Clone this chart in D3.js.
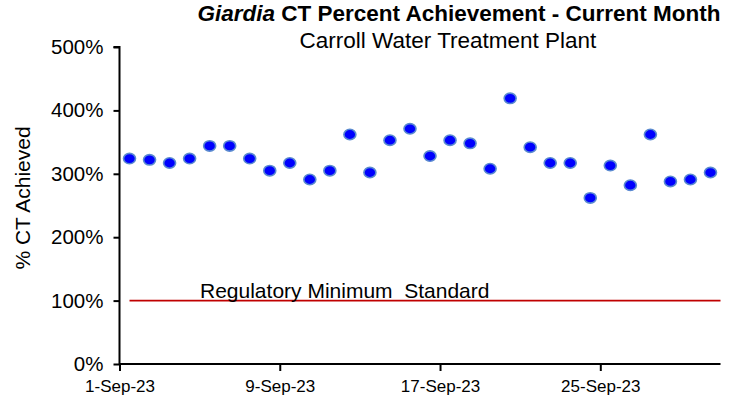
<!DOCTYPE html>
<html><head><meta charset="utf-8">
<script src="https://cdn.jsdelivr.net/npm/d3@7"></script>
<style>body{margin:0;background:#fff}svg{display:block;font-family:"Liberation Sans",Arial,sans-serif}</style>
</head><body><svg id="c" width="739" height="404"></svg>
<script>
const days = d3.range(1, 31).map(d => `2023-09-${String(d).padStart(2, "0")}`);
const ctPercent = [324, 322, 317, 324, 344, 344, 324, 305, 317, 291, 305, 362, 302, 353, 371,
  328, 353, 348, 308, 419, 342, 317, 317, 262, 313, 282, 362, 288, 291, 302];
const yTicks = [0, 100, 200, 300, 400, 500];
const xTickDates = ["2023-09-01", "2023-09-09", "2023-09-17", "2023-09-25"];
const regulatoryMin = 100;
const titleItalic = "Giardia";
const titleRest = " CT Percent Achievement - Current Month";
const subtitle = "Carroll Water Treatment Plant";
const yLabel = "% CT Achieved";
const refLabel = "Regulatory Minimum  Standard";

const parse = d3.utcParse("%Y-%m-%d");
const fmt = d3.utcFormat("%-d-%b-%y");
const svg = d3.select("#c");
const x = d3.scaleUtc().domain([parse("2023-09-01"), parse("2023-10-01")]).range([119.5, 720.5]);
const y = d3.scaleLinear().domain([0, 500]).range([364, 47]);
const mid = d => d3.utcHour.offset(parse(d), 12);

// title
const t = svg.append("text").attr("x", 459).attr("y", 21).attr("text-anchor", "middle")
  .attr("font-size", 22.5).attr("font-weight", "bold").attr("fill", "#000");
t.append("tspan").attr("font-style", "italic").text(titleItalic);
t.append("tspan").text(titleRest);
svg.append("text").attr("x", 448).attr("y", 48).attr("text-anchor", "middle")
  .attr("font-size", 22.5).text(subtitle);

// y axis
const ya = svg.append("g").attr("transform", "translate(119.5,0)")
  .call(d3.axisLeft(y).tickValues(yTicks).tickFormat(d => d + "%").tickSize(6).tickPadding(10));
ya.select(".domain").attr("stroke", "#000").attr("stroke-width", 2).attr("d", `M-6,${y(500)}H0V${y(0)}`);
ya.selectAll(".tick line").attr("stroke", "#000").attr("stroke-width", 2);
ya.selectAll(".tick text").attr("font-size", 20.5).attr("font-family", "Liberation Sans, Arial, sans-serif").attr("fill", "#000");

// x axis
const xa = svg.append("g").attr("transform", `translate(0,${y(0)})`)
  .call(d3.axisBottom(x).tickValues(xTickDates.map(parse)).tickFormat(fmt).tickSize(7).tickPadding(9));
xa.select(".domain").attr("stroke", "#000").attr("stroke-width", 2).attr("d", `M${x.range()[0]},0H${x.range()[1]}`);
xa.selectAll(".tick line").attr("stroke", "#000").attr("stroke-width", 2);
xa.selectAll(".tick text").attr("font-size", 17).attr("font-family", "Liberation Sans, Arial, sans-serif").attr("fill", "#000");

// y label
svg.append("text").attr("transform", "translate(30,198) rotate(-90)").attr("text-anchor", "middle")
  .attr("font-size", 21).text(yLabel);

// regulatory line
svg.append("line").attr("x1", x(mid(days[0]))).attr("x2", x(parse("2023-10-01")))
  .attr("y1", y(regulatoryMin)).attr("y2", y(regulatoryMin))
  .attr("stroke", "#C00000").attr("stroke-width", 1.6);
svg.append("text").attr("x", 200).attr("y", y(regulatoryMin) - 3).attr("font-size", 21)
  .style("white-space", "pre").attr("xml:space", "preserve").text(refLabel);

// points
svg.append("g").selectAll("ellipse").data(days.map((d, i) => ({d, v: ctPercent[i]}))).join("ellipse")
  .attr("cx", p => x(mid(p.d))).attr("cy", p => y(p.v))
  .attr("rx", 6).attr("ry", 5.2)
  .attr("fill", "#0000FF").attr("stroke", "#5A8AD0").attr("stroke-width", 1.6);
</script></body></html>
